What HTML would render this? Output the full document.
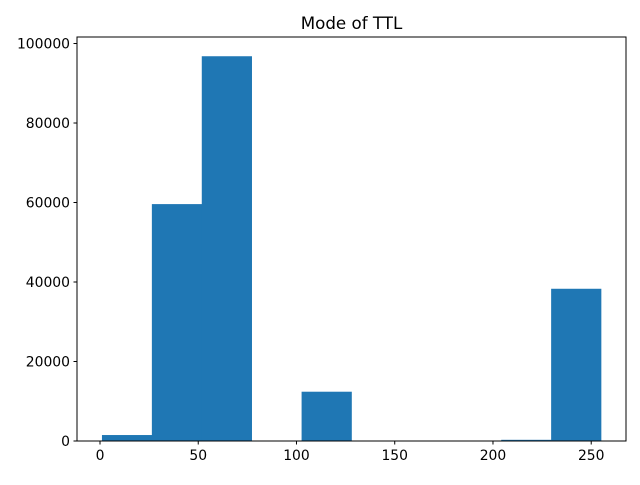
<!DOCTYPE html>
<html><head><meta charset="utf-8"><style>
body{margin:0;background:#fff}
text{font-family:"DejaVu Sans","Liberation Sans",sans-serif;font-size:13.9px;fill:#000}
</style></head><body>
<svg id="chart" width="640" height="480" xmlns="http://www.w3.org/2000/svg">
<rect width="640" height="480" fill="#fff"/>
<text x="351.5" y="29" text-anchor="middle" style="font-size:16.7px">Mode of TTL</text>
<g id="bars"></g><g id="axes"></g>
</svg>
<script>
const binEdges=[1,26.4,51.8,77.2,102.6,128,153.4,178.8,204.2,229.6,255];
const counts=[1500,59600,96800,0,12400,0,0,0,300,38300];
const xTicks=[0,50,100,150,200,250];
const yTicks=[0,20000,40000,60000,80000,100000];
const L=77,R=626,T=37,B=441;
const xmin=-11.7,xmax=267.7,ymax=101640;
const X=v=>L+(v-xmin)/(xmax-xmin)*(R-L);
const Y=v=>B-v/ymax*(B-T);
const NS='http://www.w3.org/2000/svg';
const bars=document.getElementById('bars'),axes=document.getElementById('axes');
function mk(t,a,p){const e=document.createElementNS(NS,t);for(const k in a)e.setAttribute(k,a[k]);p.appendChild(e);return e;}
counts.forEach((c,i)=>{
 const r=mk('rect',{x:X(binEdges[i]),y:Y(c),width:X(binEdges[i+1])-X(binEdges[i])+0.3,height:B-Y(c),fill:'#1f77b4'},bars);
 
 
});
const f=mk('rect',{x:L,y:T,width:R-L,height:B-T,fill:'none',stroke:'#000','stroke-width':1},axes);


xTicks.forEach(v=>{
 const x=X(v);
 mk('line',{x1:x,x2:x,y1:B,y2:B+3.5,stroke:'#000'},axes);
 const t=mk('text',{x:x,y:B+19,'text-anchor':'middle'},axes);t.textContent=v;
 
 
});
yTicks.forEach(v=>{
 const y=Y(v);
 mk('line',{x1:L-3.5,x2:L,y1:y,y2:y,stroke:'#000'},axes);
 const t=mk('text',{x:L-7,y:y+5,'text-anchor':'end'},axes);t.textContent=v;
 
 
});
</script>
</body></html>
